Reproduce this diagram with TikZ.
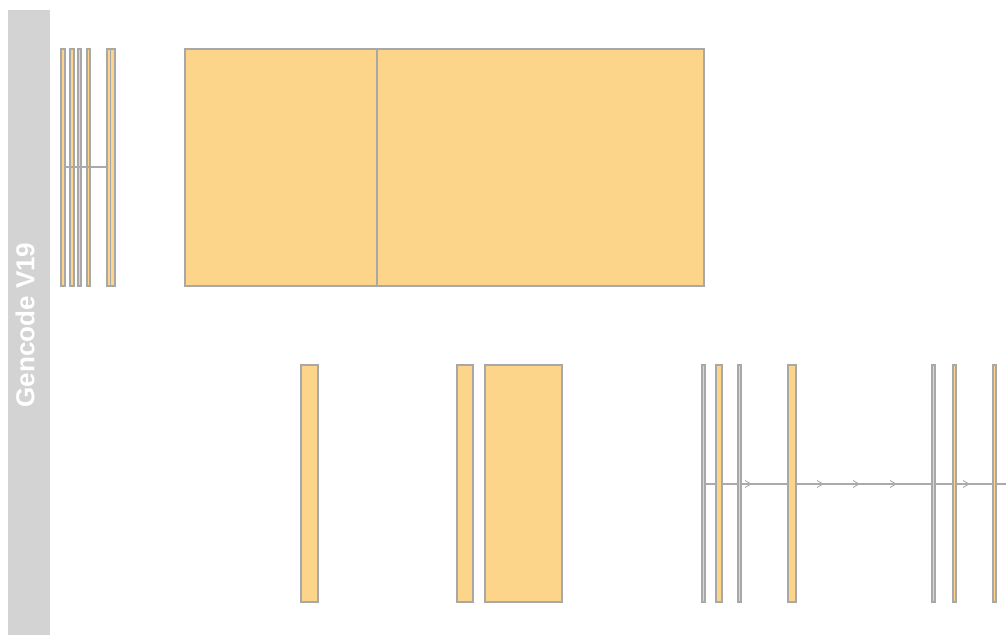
\documentclass[tikz,border=0pt]{standalone}
\usepackage{fontspec}
\setmainfont{Liberation Sans}
\definecolor{exonfill}{HTML}{FDD58A}
\definecolor{exonline}{HTML}{A8A8A8}
\definecolor{sidebar}{HTML}{D3D3D3}
\definecolor{intron}{HTML}{AAAAAA}
\tikzset{
  exonbox/.style={draw=exonline, fill=exonfill, line width=1.3pt, inner sep=0pt, outer sep=0pt},
  intronline/.style={draw=intron, line width=1.1pt},
  chevron/.style={draw=intron, line width=0.9pt},
}
\newcommand{\exonnode}[5]{%
  \node[exonbox, minimum width={(#3)-(#2)}, minimum height={(#5)-(#4)}] (#1) at ({((#2)+(#3))/2},{((#4)+(#5))/2}) {};}
\newcommand{\chev}[2]{%
  \draw[chevron] ({#1-3},{#2-3.5}) -- ({#1+3},{#2}) -- ({#1-3},{#2+3.5});}
\begin{document}
\begin{tikzpicture}[x=1pt,y=-1pt]
\useasboundingbox (0,0) rectangle (1006,635);
\fill[sidebar] (8,10) rectangle (50,635);
\node[rotate=90, text=white, font=\fontsize{26}{28}\selectfont\bfseries, inner sep=0pt] (label) at (25,325) {Gencode V19};
% top row
\exonnode{a1}{61}{65}{49}{286}
\exonnode{a2}{70}{74}{49}{286}
\exonnode{a3}{78}{81}{49}{286}
\exonnode{a4}{87}{90}{49}{286}
\exonnode{a5}{107}{110.5}{49}{286}
\exonnode{a6}{110.5}{115}{49}{286}
\draw[intronline] (a1.east |- 0,167) -- (a5.west |- 0,167);
\exonnode{t1}{185}{377}{49}{286}
\exonnode{t2}{377}{704}{49}{286}
% bottom row
\exonnode{b1}{301}{318}{365}{602}
\exonnode{b2}{457}{473}{365}{602}
\exonnode{b3}{485}{562}{365}{602}
\coordinate (rend) at (1006,484);
\draw[intronline] (702,484) -- (rend);
\exonnode{c1}{702}{705}{365}{602}
\exonnode{c2}{716}{722}{365}{602}
\exonnode{c3}{738}{741}{365}{602}
\exonnode{c4}{788}{796}{365}{602}
\exonnode{c5}{932}{935}{365}{602}
\exonnode{c6}{953}{956}{365}{602}
\exonnode{c7}{993}{996}{365}{602}
\chev{748}{484}
\chev{820}{484}
\chev{856}{484}
\chev{893}{484}
\chev{966}{484}
\end{tikzpicture}
\end{document}
